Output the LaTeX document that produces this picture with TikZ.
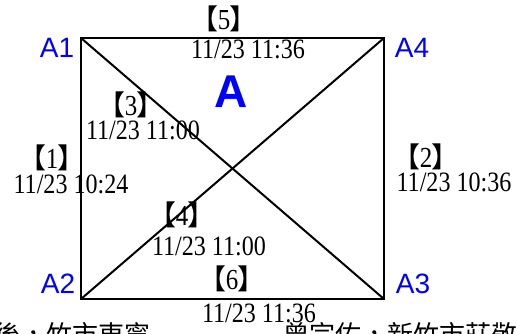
\documentclass[tikz,border=0pt]{standalone}
\usepackage{fontspec}
\setmainfont{Liberation Serif}
\newfontfamily\tsfont[FakeStretch=0.86]{Liberation Serif}
\newfontfamily\cjkfont{Noto Sans CJK TC}
\newfontfamily\lblfont{Liberation Sans}
\begin{document}
\begin{tikzpicture}[x=1pt,y=-1pt,
  edge/.style={draw=black,line width=2pt},
  corner/.style={font=\lblfont\fontsize{28}{28}\selectfont,text=blue,inner sep=0pt},
  stamp/.style={font=\tsfont\fontsize{28}{28}\selectfont,inner sep=0pt},
  tag/.style={font=\tsfont\fontsize{29}{29}\selectfont,inner sep=0pt},
  bottomtxt/.style={font=\cjkfont\fontsize{26}{26}\selectfont,inner sep=0pt,anchor=base west}]
\useasboundingbox (0,0) rectangle (516,333);
\coordinate (c1) at (81,38);
\coordinate (c4) at (384,38);
\coordinate (c2) at (81,299);
\coordinate (c3) at (384,299);
\draw[edge] (c1) -- (c4) -- (c3) -- (c2) -- cycle;
\draw[edge] (c1) -- (c3);
\draw[edge] (c2) -- (c4);
\node[corner] (lA1) at (57,48) {A1};
\node[corner] (lA4) at (412,48) {A4};
\node[corner] (lA2) at (58,284) {A2};
\node[corner] (lA3) at (413,284) {A3};
\node[font=\lblfont\bfseries\fontsize{46}{46}\selectfont,text=blue,inner sep=0pt] (bigA) at (231,92) {A};
\newcommand{\brk}[1]{{\cjkfont\fontsize{28}{28}\selectfont【}\kern-0.5pt#1\kern-0.5pt{\cjkfont\fontsize{28}{28}\selectfont】}}
\node[tag] (t5) at (224,19) {\brk{5}};
\node[stamp] (s5) at (248,49) {11/23 11:36};
\node[tag] (t3) at (131,105) {\brk{3}};
\node[stamp] (s3) at (143,130) {11/23 11:00};
\node[tag] (t1) at (52,158) {\brk{1}};
\node[stamp] (s1) at (71,184) {11/23 10:24};
\node[tag] (t2) at (426,157) {\brk{2}};
\node[stamp] (s2) at (454,182) {11/23 10:36};
\node[tag] (t4) at (182,215) {\brk{4}};
\node[stamp] (s4) at (209,246) {11/23 11:00};
\node[tag] (t6) at (232,279) {\brk{6}};
\node[stamp] (s6) at (259,313) {11/23 11:36};
\node[bottomtxt] (b1) at (-6,344) {後，竹市東寧};
\node[bottomtxt] (b2) at (283,344) {曾宗佑，新竹市莊敬里};
\end{tikzpicture}
\end{document}
